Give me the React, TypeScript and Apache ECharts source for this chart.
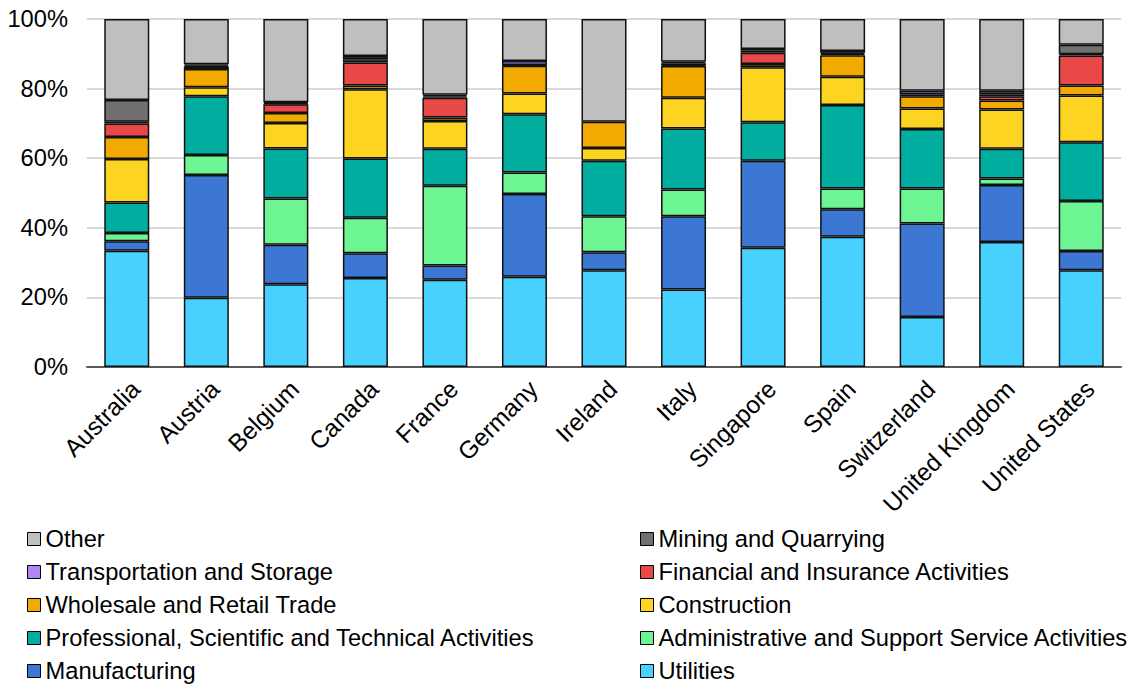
import React, { useEffect, useRef } from "react";
import * as echarts from "echarts";

const categories = ["Australia", "Austria", "Belgium", "Canada", "France", "Germany", "Ireland", "Italy", "Singapore", "Spain", "Switzerland", "United Kingdom", "United States"];

const utilities = [33.4, 19.9, 23.8, 25.6, 25.1, 25.9, 27.8, 22.3, 34.3, 37.4, 14.4, 35.9, 27.8];
const manufacturing = [2.7, 35.3, 11.3, 7.1, 4.1, 23.8, 5.2, 21.0, 25.0, 7.9, 26.8, 16.4, 5.5];
const admin = [2.4, 5.7, 13.3, 10.2, 22.9, 6.2, 10.3, 7.7, 0, 6.0, 10.1, 1.9, 14.4];
const professional = [8.8, 16.9, 14.4, 17.0, 10.6, 16.7, 16.0, 17.5, 11.0, 24.0, 17.1, 8.5, 16.9];
const construction = [12.5, 2.6, 7.3, 19.9, 8.0, 6.0, 3.6, 8.9, 15.8, 8.1, 5.9, 11.3, 13.4];
const wholesale = [6.3, 5.2, 2.9, 1.1, 1.0, 8.0, 7.6, 9.1, 1.0, 6.2, 3.5, 2.6, 2.9];
const financial = [3.9, 0.7, 2.5, 6.6, 5.7, 0.2, 0, 0.3, 3.2, 0.4, 0.6, 1.2, 8.6];
const transportation = [0.5, 0.3, 0.3, 0.9, 0.4, 1.1, 0, 0.5, 0.6, 0.3, 1.0, 0.6, 0.4];
const mining = [6.2, 0.4, 0.3, 1.0, 0.4, 0, 0, 0.4, 0.5, 0.5, 0, 1.0, 2.7];
const other = [23.3, 13.0, 23.9, 10.6, 21.8, 12.1, 29.5, 12.3, 8.6, 9.2, 20.6, 20.6, 7.4];

const yTicks = [0, 20, 40, 60, 80, 100];

const seriesDefs = [
  { name: "Utilities", data: utilities, color: "#48d1ff" },
  { name: "Manufacturing", data: manufacturing, color: "#3c78d3" },
  { name: "Administrative and Support Service Activities", data: admin, color: "#6cf592" },
  { name: "Professional, Scientific and Technical Activities", data: professional, color: "#00ad9f" },
  { name: "Construction", data: construction, color: "#fdd422" },
  { name: "Wholesale and Retail Trade", data: wholesale, color: "#f2a900" },
  { name: "Financial and Insurance Activities", data: financial, color: "#e84848" },
  { name: "Transportation and Storage", data: transportation, color: "#b085f5" },
  { name: "Mining and Quarrying", data: mining, color: "#707070" },
  { name: "Other", data: other, color: "#bfbfbf" },
];

const legendLeft = ["Other", "Transportation and Storage", "Wholesale and Retail Trade", "Professional, Scientific and Technical Activities", "Manufacturing"];
const legendRight = ["Mining and Quarrying", "Financial and Insurance Activities", "Construction", "Administrative and Support Service Activities", "Utilities"];

const FONT = "Liberation Sans, Arial, sans-serif";
const FS = 23.7;

export default function App() {
  const ref = useRef<HTMLDivElement>(null);
  useEffect(() => {
    if (!ref.current) return;
    const chart = echarts.init(ref.current, null, { renderer: "svg" });
    const legendCommon = {
      orient: "vertical",
      top: 527,
      itemWidth: 13,
      itemHeight: 13,
      itemGap: 9.0,
      icon: "rect",
      selectedMode: false,
      itemStyle: { borderColor: "#000", borderWidth: 1 },
      textStyle: { fontSize: FS, fontFamily: FONT, color: "#000" },
      padding: 0,
    };
    chart.setOption({
      animation: false,
      backgroundColor: "#fff",
      textStyle: { fontFamily: FONT },
      grid: { left: 87, right: 13, top: 19, height: 348, containLabel: false },
      legend: [
        { ...legendCommon, left: 27, data: legendLeft },
        { ...legendCommon, left: 640, data: legendRight },
      ],
      xAxis: {
        type: "category",
        data: categories,
        axisTick: { show: false },
        axisLine: { lineStyle: { color: "#595959", width: 2 } },
        axisLabel: { rotate: 45, fontSize: 24.5, color: "#000", fontFamily: FONT, margin: 9, interval: 0, verticalAlign: "top" },
      },
      yAxis: {
        type: "value",
        min: yTicks[0],
        max: yTicks[yTicks.length - 1],
        interval: 20,
        axisLine: { show: false },
        axisTick: { show: false },
        splitLine: { lineStyle: { color: "#d9d9d9", width: 2 } },
        axisLabel: { formatter: "{value}%", fontSize: FS, color: "#000", fontFamily: FONT, margin: 19 },
      },
      series: seriesDefs.map((s) => ({
        name: s.name,
        type: "bar",
        stack: "total",
        barWidth: 45,
        data: s.data.map((v) => (v === 0 ? "-" : v)),
        itemStyle: { color: s.color, borderColor: "#111", borderWidth: 1.5 },
      })),
    });
    return () => chart.dispose();
  }, []);
  return <div ref={ref} style={{ width: 1134, height: 684, position: "absolute", left: 0, top: 0 }} />;
}
